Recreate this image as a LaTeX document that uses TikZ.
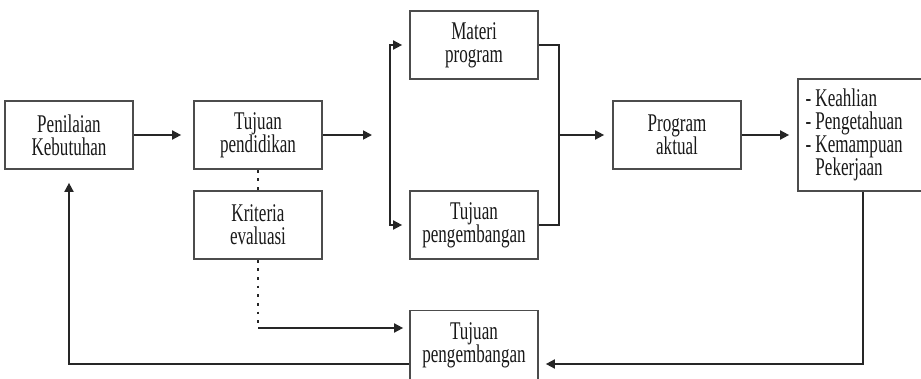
\documentclass[tikz,border=0pt]{standalone}
\usepackage{fontspec}
\setmainfont[FakeStretch=0.67]{Liberation Serif}
\usetikzlibrary{arrows.meta}

\tikzset{
  box/.style={draw=black!70, line width=1pt, minimum width=2.56cm, minimum height=1.36cm,
    align=center, font=\fontsize{14.5}{13.2}\selectfont, text=black!90, inner sep=1pt},
  flow/.style={line width=1pt, draw=black!85, -{Triangle[length=1.8mm,width=1.8mm]}},
  link/.style={line width=1pt, draw=black!85},
  dots/.style={line width=1.6pt, draw=black!85, dash pattern=on 1.5pt off 3.4pt}
}

\begin{document}
\begin{tikzpicture}[x=0.02cm,y=-0.02cm]
\clip (0,0) rectangle (921,379);
\fill[white] (0,0) rectangle (921,379);

\node[box] (need) at (69,135) {Penilaian\\Kebutuhan};
\node[box] (goal) at (258,135) {Tujuan\\pendidikan};
\node[box] (crit) at (258,225) {Kriteria\\evaluasi};
\node[box] (mat) at (474,45) {Materi\\program};
\node[box] (dev) at (474,225) {Tujuan\\pengembangan};
\node[box] (act) at (677,135) {Program\\aktual};
\node[box, minimum width=2.6cm, minimum height=2.24cm, align=left, text width=2.3cm,
  inner xsep=4pt] (out) at (863,135)
  {-\,Keahlian\\-\,Pengetahuan\\-\,Kemampuan\\\phantom{-\,}Pekerjaan};
\node[box, minimum height=1.38cm] (eval) at (474,345) {Tujuan\\pengembangan};

\coordinate (split) at (390,135);
\coordinate (join) at (559,135);
\coordinate (bend) at (258,328);

% main line
\draw[flow, shorten >=0.24cm] (need) -- (goal);
\draw[flow, shorten >=0.36cm] (goal) -- (split);
\draw[flow, shorten >=0.14cm] (split) |- (mat.west);
\draw[flow, shorten >=0.14cm] (split) |- (dev.west);
\draw[link] (mat.east) -| (join);
\draw[link] (dev.east) -| (join);
\draw[flow, shorten >=0.16cm] (join) -- (act);
\draw[flow, shorten >=0.16cm] (act) -- (out);

% evaluation
\draw[dots] (goal) -- (crit);
\draw[dots] (crit) -- (bend);
\draw[flow, shorten >=0.12cm] (bend) -- (bend -| eval.west);

% feedback
\draw[flow, shorten >=0.14cm] (out.south) |- ([yshift=-0.38cm]eval.east);
\draw[flow, shorten >=0.26cm] ([yshift=-0.38cm]eval.west) -| (need.south);
\end{tikzpicture}
\end{document}
